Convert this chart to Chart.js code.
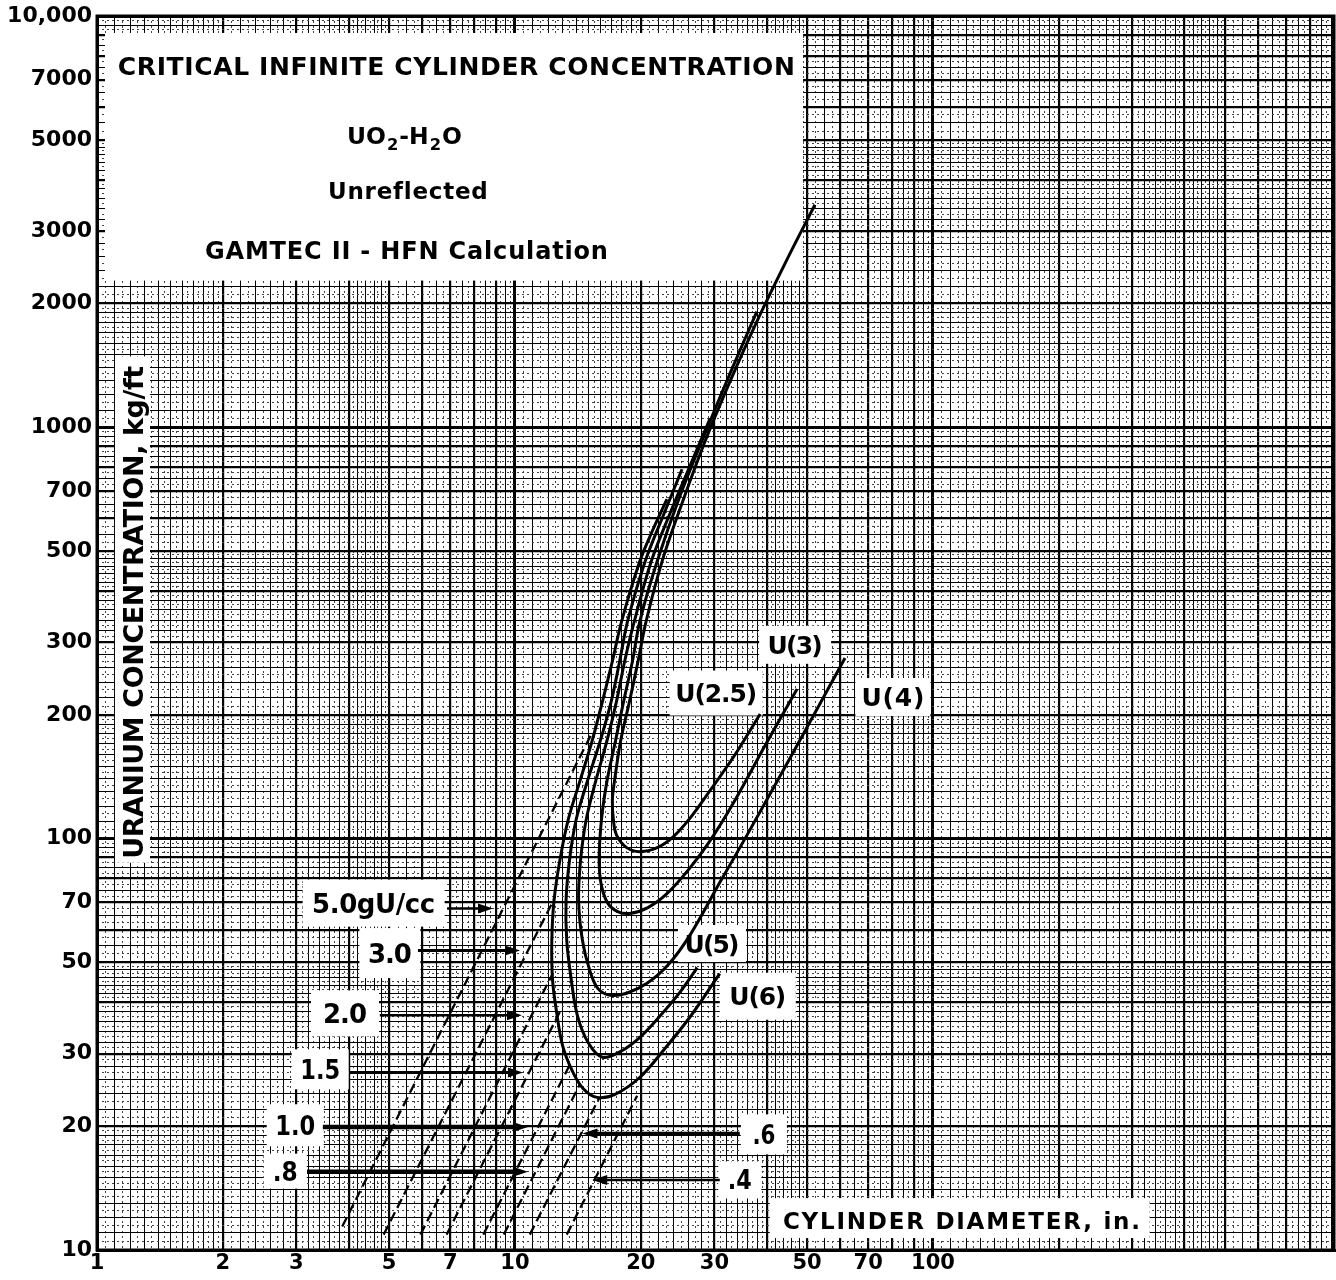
<!DOCTYPE html>
<html>
<head>
<meta charset="utf-8">
<title>Critical Infinite Cylinder Concentration</title>
<script src="https://cdn.jsdelivr.net/npm/chart.js@4.4.1/dist/chart.umd.min.js"></script>
<style>
  html, body { margin: 0; padding: 0; background: #fff; }
  canvas { display: block; }
</style>
</head>
<body>
<canvas id="chart" width="1336" height="1280"></canvas>
<script>
// ---- axis ranges and labelled ticks ----
const X_MIN = 1, X_MAX = 911;
const Y_MIN = 10, Y_MAX = 10000;
const X_TICK_LABELS = [1, 2, 3, 5, 7, 10, 20, 30, 50, 70, 100];
const Y_TICK_LABELS = [10, 20, 30, 50, 70, 100, 200, 300, 500, 700, 1000, 2000, 3000, 5000, 7000, 10000];

// ---- critical curves: [cylinder diameter (in.), uranium (kg/ft)] ----
const U2_5 = [[52.2,3477],[44.5,2529],[37.9,1808],[32.7,1293],[28.5,925],[25.2,661],[22.5,473],[20.6,338],[19.7,270],[18.8,216],[17.9,173],[17.3,138],[17.1,124],[17.2,111],[17.5,102],[18.5,95.1],[19.9,93.0],[21.9,95.1],[23.9,101],[26.2,112],[29.3,131],[33.6,160],[38.6,201]];
const U3 = [[37.9,1912],[32.7,1352],[28.5,967],[24.8,680],[21.9,473],[19.9,338],[19.1,270],[18.2,216],[17.4,173],[16.6,138],[16.1,111],[15.9,88.4],[16.1,76.9],[16.7,69.5],[17.6,66.5],[18.8,65.8],[20.8,68.0],[23.1,73.5],[25.9,83.6],[29.3,98.9],[33.6,124],[39.6,168],[47.3,231]];
const U4 = [[29.3,1052],[26.2,804],[23.5,618],[21.2,473],[19.3,338],[18.3,270],[17.5,216],[16.6,173],[15.6,138],[14.8,111],[14.35,88.4],[14.2,70.7],[14.5,56.6],[15.1,47.8],[15.8,43.2],[16.9,41.6],[18.5,42.1],[20.7,44.5],[23.2,49.2],[26.2,58.2],[30.9,78.2],[35.9,102],[46.3,162],[61.6,275]];
const U5 = [[25.1,791],[22.6,608],[20.5,473],[18.6,338],[17.8,270],[17.0,216],[16.0,173],[14.9,138],[14.0,111],[13.5,88.4],[13.25,70.7],[13.3,56.6],[13.6,46.3],[14.1,37.2],[15.0,31.8],[16.2,29.4],[17.9,30.4],[19.9,32.9],[22.2,37.0],[24.8,42.3],[27.3,48.6]];
const U6 = [[23.1,669],[21.3,559],[19.9,473],[18.0,338],[17.1,270],[16.2,216],[15.3,173],[14.3,138],[13.4,111],[12.8,88.4],[12.4,70.7],[12.25,56.6],[12.3,45.3],[12.6,37.4],[13.0,31.4],[13.7,27.3],[14.55,24.7],[15.7,23.5],[17.35,23.9],[19.9,26.3],[22.85,30.9],[26.2,36.8],[30.9,47.0]];

// ---- constant uranium density lines (gU/cc): end points ----
const DENSITY_NAMES = ['5.0gU/cc', '3.0', '2.0', '1.5', '1.0', '.8', '.6', '.4'];
const DENSITY_LINES = [
  [[3.86, 11.4], [15.3, 181]],
  [[4.85, 10.9], [12.4, 71.2]],
  [[5.94, 10.9], [12.3, 46.9]],
  [[6.86, 10.9], [12.8, 37.9]],
  [[8.4, 10.9], [13.5, 28.1]],
  [[9.4, 10.9], [14.3, 25.3]],
  [[10.85, 10.9], [15.9, 23.4]],
  [[13.3, 10.9], [19.6, 23.7]]
];

// ---- annotation placement (data coordinates) ----
const DENSITY_LABELS = [
  { text: '5.0gU/cc', x: 4.59, y: 69.7, w: 123, box: [142, 47] },
  { text: '3.0', x: 5.02, y: 52.7, w: 44, box: [61, 50] },
  { text: '2.0', x: 3.92, y: 37.6, w: 44, box: [68, 46] },
  { text: '1.5', x: 3.42, y: 27.5, w: 40, box: [57, 40] },
  { text: '1.0', x: 2.98, y: 20.1, w: 40, box: [57, 42] },
  { text: '.8', x: 2.82, y: 15.55, w: 25, box: [43, 35] },
  { text: '.6', x: 39.4, y: 19.1, w: 23, box: [46, 40] },
  { text: '.4', x: 34.5, y: 14.8, w: 24, box: [43, 37] }
];
const DENSITY_ARROWS = [
  { from: [6.88, 67.6], to: [8.86, 67.6], lw: 2.5 },
  { from: [5.86, 53.5], to: [10.28, 53.5], lw: 3 },
  { from: [4.75, 37.2], to: [10.39, 37.2], lw: 2.5 },
  { from: [4.03, 27.0], to: [10.45, 27.0], lw: 3 },
  { from: [3.47, 19.9], to: [10.74, 19.9], lw: 4.5 },
  { from: [3.18, 15.5], to: [10.74, 15.5], lw: 4.5 },
  { from: [34.5, 19.2], to: [14.5, 19.2], lw: 3.5 },
  { from: [30.9, 14.8], to: [15.3, 14.8], lw: 2.5 }
];
const CURVE_LABELS = [
  { text: 'U(3)', x: 46.8, y: 296, w: 55, box: [72, 38] },
  { text: 'U(2.5)', x: 30.3, y: 226, w: 82, box: [93, 45] },
  { text: 'U(4)', x: 80.2, y: 221, w: 63, box: [75, 38] },
  { text: 'U(5)', x: 29.6, y: 55.6, w: 55, box: [68, 37] },
  { text: 'U(6)', x: 38.1, y: 41.4, w: 57, box: [76, 47] }
];
const TITLE_BOX = { x0: 1.045, x1: 48.9, y0: 9094, y1: 2274 };
const TITLE_LINES = [
  { text: 'CRITICAL INFINITE CYLINDER CONCENTRATION', x: 7.24, y: 7561, w: 677, size: 25 },
  { text: 'Unreflected', x: 5.53, y: 3771, w: 159, size: 23 },
  { text: 'GAMTEC II - HFN Calculation', x: 5.50, y: 2689, w: 403, size: 24 }
];
const FORMULA_LINE = { x: 5.44, y: 5129, w: 115, size: 23 };
const Y_TITLE = { text: 'URANIUM CONCENTRATION, kg/ft', x: 1.219, y: 355, w: 493, size: 27, box: { x0: 1.104, x1: 1.339, y0: 1487, y1: 87.4 } };
const X_TITLE = { text: 'CYLINDER DIAMETER, in.', x: 117, y: 11.82, w: 357, size: 23, box: { x0: 40.7, x1: 330, y0: 13.37, y1: 10.69 } };

// ---- graph-paper rulings ----
function rulings(ranges, half) {
  const out = [];
  ranges.forEach(([a, b, step]) => {
    const n = Math.round((b - a) / step);
    for (let i = 0; i < n; i++) {
      out.push(Math.round((a + i * step + (half ? step / 2 : 0)) * 1000) / 1000);
    }
  });
  return out;
}
const RULING_RANGES = [[1, 2, 0.1], [2, 5, 0.2], [5, 10, 0.5]];
const SOLID_MANTISSAS = rulings(RULING_RANGES, false);
const DOTTED_MANTISSAS = rulings(RULING_RANGES, true);

function gridValues(min, max, mantissas) {
  const out = [];
  const e0 = Math.floor(Math.log10(min)), e1 = Math.ceil(Math.log10(max));
  for (let e = e0; e <= e1; e++) {
    const b = Math.pow(10, e);
    mantissas.forEach(m => {
      const v = parseFloat((m * b).toPrecision(6));
      if (v >= min * 0.99999 && v <= max * 1.00001) out.push(v);
    });
  }
  return out;
}
function gridWeight(v) {
  const e = Math.floor(Math.log10(v) + 1e-9);
  const m = Math.round(v / Math.pow(10, e) * 1000) / 1000;
  if (m === 1) return 3;
  if (Number.isInteger(m)) return 2.2;
  return 1;
}
function labelFor(v, list) {
  const t = list.find(t => Math.abs(v / t - 1) < 1e-6);
  if (t === undefined) return '';
  return t >= 10000 ? t.toLocaleString('en-US') : String(t);
}

// ---- text helpers ----
const FONT = '"DejaVu Sans", "Liberation Sans", sans-serif';
const CAP = 0.729;
function fittedText(ctx, text, cx, cy, size, width) {
  ctx.font = `bold ${size}px ${FONT}`;
  if ('letterSpacing' in ctx) ctx.letterSpacing = '0px';
  const w0 = ctx.measureText(text).width;
  const n = [...text].length;
  const extra = n > 1 ? (width - w0) / (n - 1) : 0;
  const base = cy + size * CAP / 2;
  const left = cx - width / 2;
  ctx.textAlign = 'left';
  ctx.textBaseline = 'alphabetic';
  if ('letterSpacing' in ctx && extra > -2) {
    ctx.letterSpacing = extra + 'px';
    ctx.fillText(text, left, base);
    ctx.letterSpacing = '0px';
  } else {
    ctx.save();
    ctx.translate(left, base);
    ctx.scale(width / w0, 1);
    ctx.fillText(text, 0, 0);
    ctx.restore();
  }
}
function formulaText(ctx, cx, cy, size, width) {
  // UO2-H2O with subscripts
  const parts = [['UO', false], ['2', true], ['-H', false], ['2', true], ['O', false]];
  const sub = Math.round(size * 0.68);
  const gap = 1;
  const widths = parts.map(([t, s]) => {
    ctx.font = `bold ${s ? sub : size}px ${FONT}`;
    return ctx.measureText(t).width;
  });
  const natural = widths.reduce((a, b) => a + b, 0) + gap * (parts.length - 1);
  const k = width / natural;
  let x = cx - width / 2;
  const base = cy + size * CAP / 2;
  ctx.textAlign = 'left';
  ctx.textBaseline = 'alphabetic';
  parts.forEach(([t, s], i) => {
    ctx.font = `bold ${s ? sub : size}px ${FONT}`;
    ctx.save();
    ctx.translate(x, base + (s ? size * 0.28 : 0));
    ctx.scale(k, 1);
    ctx.fillText(t, 0, 0);
    ctx.restore();
    x += (widths[i] + gap) * k;
  });
}
function arrow(ctx, x1, y1, x2, y2, lw) {
  const ang = Math.atan2(y2 - y1, x2 - x1);
  const len = 15, half = 5;
  ctx.lineWidth = lw;
  ctx.strokeStyle = '#000';
  ctx.beginPath();
  ctx.moveTo(x1, y1);
  ctx.lineTo(x2 - Math.cos(ang) * len * 0.6, y2 - Math.sin(ang) * len * 0.6);
  ctx.stroke();
  ctx.beginPath();
  ctx.moveTo(x2, y2);
  ctx.lineTo(x2 - Math.cos(ang) * len - Math.sin(ang) * half, y2 - Math.sin(ang) * len + Math.cos(ang) * half);
  ctx.lineTo(x2 - Math.cos(ang) * len + Math.sin(ang) * half, y2 - Math.sin(ang) * len - Math.cos(ang) * half);
  ctx.closePath();
  ctx.fillStyle = '#000';
  ctx.fill();
}

const overlay = {
  id: 'overlay',
  beforeDatasetsDraw(chart) {
    const { ctx } = chart;
    const X = v => chart.scales.x.getPixelForValue(v);
    const Y = v => chart.scales.y.getPixelForValue(v);
    ctx.save();
    ctx.fillStyle = '#fff';
    const rect = b => ctx.fillRect(X(b.x0), Y(b.y0), X(b.x1) - X(b.x0), Y(b.y1) - Y(b.y0));
    rect(TITLE_BOX);
    rect(Y_TITLE.box);
    rect(X_TITLE.box);
    DENSITY_LABELS.concat(CURVE_LABELS).forEach(l => {
      const cx = X(l.x), cy = Y(l.y);
      ctx.fillRect(cx - l.box[0] / 2, cy - l.box[1] / 2, l.box[0], l.box[1]);
    });
    ctx.restore();
  },
  afterDatasetsDraw(chart) {
    const { ctx, chartArea } = chart;
    const X = v => chart.scales.x.getPixelForValue(v);
    const Y = v => chart.scales.y.getPixelForValue(v);
    ctx.save();
    DENSITY_ARROWS.forEach(a => arrow(ctx, X(a.from[0]), Y(a.from[1]), X(a.to[0]), Y(a.to[1]), a.lw));
    ctx.fillStyle = '#000';
    DENSITY_LABELS.forEach(l => fittedText(ctx, l.text, X(l.x), Y(l.y), 26, l.w));
    CURVE_LABELS.forEach(l => fittedText(ctx, l.text, X(l.x), Y(l.y), 25, l.w));
    TITLE_LINES.forEach(l => fittedText(ctx, l.text, X(l.x), Y(l.y), l.size, l.w));
    formulaText(ctx, X(FORMULA_LINE.x), Y(FORMULA_LINE.y), FORMULA_LINE.size, FORMULA_LINE.w);
    fittedText(ctx, X_TITLE.text, X(X_TITLE.x), Y(X_TITLE.y), X_TITLE.size, X_TITLE.w);
    ctx.save();
    ctx.translate(X(Y_TITLE.x), Y(Y_TITLE.y));
    ctx.rotate(-Math.PI / 2);
    fittedText(ctx, Y_TITLE.text, 0, 0, Y_TITLE.size, Y_TITLE.w);
    ctx.restore();
    // plot frame
    ctx.lineWidth = 3;
    ctx.strokeStyle = '#000';
    ctx.strokeRect(chartArea.left, chartArea.top, chartArea.right - chartArea.left, chartArea.bottom - chartArea.top);
    ctx.restore();
  }
};

const toXY = arr => arr.map(([x, y]) => ({ x, y }));
const curveSet = (label, arr) => ({
  label, data: toXY(arr), borderColor: '#000', borderWidth: 3,
  pointRadius: 0, tension: 0.35, fill: false
});
const datasets = [
  curveSet('U(2.5)', U2_5), curveSet('U(3)', U3), curveSet('U(4)', U4),
  curveSet('U(5)', U5), curveSet('U(6)', U6)
].concat(DENSITY_LINES.map((pts, i) => ({
  label: DENSITY_NAMES[i], data: toXY(pts), borderColor: '#000', borderWidth: 2.3,
  borderDash: [10, 5], pointRadius: 0, tension: 0, fill: false
})));

const tickFont = { family: '"DejaVu Sans", sans-serif', weight: 'bold', size: 22, lineHeight: 1 };
const weightOf = c => (c.tick ? gridWeight(c.tick.value) : 1);

new Chart(document.getElementById('chart'), {
  type: 'line',
  data: { datasets },
  options: {
    responsive: false,
    animation: false,
    devicePixelRatio: 1,
    layout: { padding: { top: 13, right: 2, left: 0, bottom: 0 } },
    plugins: { legend: { display: false }, tooltip: { enabled: false } },
    elements: { point: { radius: 0 } },
    scales: {
      x: {
        type: 'logarithmic', position: 'bottom', min: X_MIN, max: X_MAX,
        afterBuildTicks: s => { s.ticks = gridValues(X_MIN, X_MAX, SOLID_MANTISSAS).map(v => ({ value: v })); },
        afterFit: s => { s.height = 30; },
        grid: { color: '#000', lineWidth: weightOf, drawTicks: false },
        border: { display: true, color: '#000', width: 3 },
        ticks: {
          autoSkip: false, maxRotation: 0, minRotation: 0, padding: 3, color: '#000',
          font: { ...tickFont, size: 21 },
          callback: v => labelFor(v, X_TICK_LABELS)
        }
      },
      xMinor: {
        type: 'logarithmic', position: 'bottom', min: X_MIN, max: X_MAX,
        afterBuildTicks: s => { s.ticks = gridValues(X_MIN, X_MAX, DOTTED_MANTISSAS).map(v => ({ value: v })); },
        afterFit: s => { s.height = 0; },
        grid: { color: '#444', lineWidth: 1, drawTicks: false },
        border: { display: false, dash: [2, 3] },
        ticks: { display: false }
      },
      y: {
        type: 'logarithmic', position: 'left', min: Y_MIN, max: Y_MAX,
        afterBuildTicks: s => { s.ticks = gridValues(Y_MIN, Y_MAX, SOLID_MANTISSAS).map(v => ({ value: v })); },
        afterFit: s => { s.width = 97; },
        grid: { color: '#000', lineWidth: weightOf, drawTicks: false },
        border: { display: true, color: '#000', width: 3 },
        ticks: {
          autoSkip: false, padding: 5, color: '#000', font: tickFont,
          callback: v => labelFor(v, Y_TICK_LABELS)
        }
      },
      yMinor: {
        type: 'logarithmic', position: 'left', min: Y_MIN, max: Y_MAX,
        afterBuildTicks: s => { s.ticks = gridValues(Y_MIN, Y_MAX, DOTTED_MANTISSAS).map(v => ({ value: v })); },
        afterFit: s => { s.width = 0; },
        grid: { color: '#444', lineWidth: 1, drawTicks: false },
        border: { display: false, dash: [2, 3] },
        ticks: { display: false }
      }
    }
  },
  plugins: [overlay]
});
</script>
</body>
</html>
